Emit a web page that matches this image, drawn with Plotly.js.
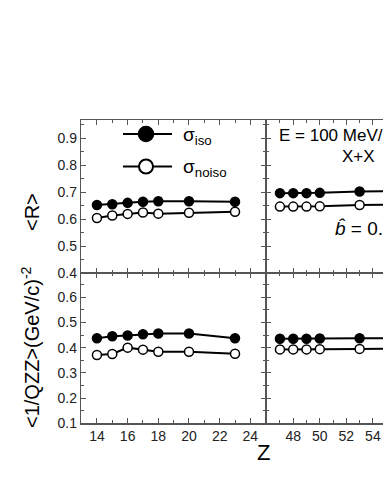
<!DOCTYPE html>
<html>
<head>
<meta charset="utf-8">
<script src="https://cdn.plot.ly/plotly-3.0.1.min.js"></script>
<style>
html,body{margin:0;padding:0;overflow:hidden;background:#fff;width:383px;height:495px;}
#plot{width:440px;height:495px;}
</style>
</head>
<body>
<div id="plot"></div>
<script>
// Light systems (left panels)
const zLight = [14, 15, 16, 17, 18, 20, 23];
const rIsoLight = [0.652, 0.655, 0.660, 0.664, 0.666, 0.666, 0.664];
const rNoisoLight = [0.604, 0.613, 0.619, 0.624, 0.620, 0.623, 0.627];
const qIsoLight = [0.437, 0.445, 0.448, 0.453, 0.456, 0.456, 0.437];
const qNoisoLight = [0.371, 0.375, 0.400, 0.392, 0.384, 0.384, 0.376];
// Heavy systems (right panels, partly cut off)
const zHeavy = [47, 48, 49, 50, 53, 57];
const rIsoHeavy = [0.696, 0.696, 0.696, 0.697, 0.702, 0.704];
const rNoisoHeavy = [0.646, 0.646, 0.646, 0.647, 0.652, 0.655];
const qIsoHeavy = [0.435, 0.435, 0.435, 0.436, 0.437, 0.438];
const qNoisoHeavy = [0.393, 0.393, 0.393, 0.394, 0.395, 0.396];

const xTicksLight = [14, 16, 18, 20, 22, 24];
const xTicksHeavy = [48, 50, 52, 54, 56];
const yTicksR = [0.4, 0.5, 0.6, 0.7, 0.8, 0.9];
const yTicksQ = [0.1, 0.2, 0.3, 0.4, 0.5, 0.6];

const W = 440, H = 495;
const px = v => v / W;
const py = v => 1 - v / H;

function tr(x, y, filled, xa, ya) {
  return {
    x: x, y: y, xaxis: xa, yaxis: ya, type: 'scatter', mode: 'lines+markers',
    line: {color: '#000', width: 2},
    marker: {size: 9, symbol: 'circle', color: filled ? '#000' : '#fff', line: {color: '#000', width: 1.5}},
    showlegend: false, hoverinfo: 'skip', cliponaxis: true
  };
}

const data = [
  tr(zLight, rIsoLight, true, 'x', 'y'),
  tr(zLight, rNoisoLight, false, 'x', 'y'),
  tr(zHeavy, rIsoHeavy, true, 'x2', 'y2'),
  tr(zHeavy, rNoisoHeavy, false, 'x2', 'y2'),
  tr(zLight, qIsoLight, true, 'x3', 'y3'),
  tr(zLight, qNoisoLight, false, 'x3', 'y3'),
  tr(zHeavy, qIsoHeavy, true, 'x4', 'y4'),
  tr(zHeavy, qNoisoHeavy, false, 'x4', 'y4')
];

const axCol = '#555';
const tickFont = {family: 'Arial, Liberation Sans, sans-serif', size: 14, color: '#222'};
function ax(domain, range, tickvals, showLabels, anchor, minorStep) {
  return {
    domain: domain, range: range, anchor: anchor,
    tickmode: 'array', tickvals: tickvals, ticktext: tickvals.map(v => String(v)),
    showticklabels: showLabels, ticks: 'inside', ticklen: 5, tickwidth: 1, tickcolor: axCol,
    showline: true, linecolor: axCol, linewidth: 1.2, mirror: 'ticks',
    showgrid: false, zeroline: false, tickfont: tickFont,
    minor: {ticks: 'inside', ticklen: 3, tickcolor: axCol, dtick: minorStep, tick0: 0, showgrid: false}
  };
}

const xL = [px(81), px(266)], xR = [px(266), px(426)];
const yT = [py(273), py(120)], yB = [py(423.3), py(273)];

const layout = {
  width: W, height: H,
  margin: {l: 0, r: 0, t: 0, b: 0},
  paper_bgcolor: '#fff', plot_bgcolor: '#fff',
  font: {family: 'Arial, Liberation Sans, sans-serif', color: '#000'},
  xaxis: ax(xL, [12.96, 25.02], xTicksLight, false, 'y', 1),
  yaxis: Object.assign(ax(yT, [0.4, 0.967], yTicksR, true, 'x', 0.05), {ticktext: yTicksR.map(v => v.toFixed(1))}),
  xaxis2: ax(xR, [45.95, 58], xTicksHeavy, false, 'y2', 1),
  yaxis2: ax(yT, [0.4, 0.967], yTicksR, false, 'x2', 0.05),
  xaxis3: ax(xL, [12.96, 25.02], xTicksLight, true, 'y3', 1),
  yaxis3: Object.assign(ax(yB, [0.1, 0.696], yTicksQ, true, 'x3', 0.05), {ticktext: yTicksQ.map(v => v.toFixed(1))}),
  xaxis4: ax(xR, [45.95, 58], xTicksHeavy, true, 'y4', 1),
  yaxis4: ax(yB, [0.1, 0.696], yTicksQ, false, 'x4', 0.05),
  shapes: [
    {type: 'line', xref: 'paper', yref: 'paper', x0: px(123), x1: px(172), y0: py(134), y1: py(134), line: {color: '#000', width: 2}},
    {type: 'circle', xref: 'paper', yref: 'paper', x0: px(146 - 7.5), x1: px(146 + 7.5), y0: py(134 + 7.5), y1: py(134 - 7.5), fillcolor: '#000', line: {color: '#000', width: 1.5}},
    {type: 'line', xref: 'paper', yref: 'paper', x0: px(123), x1: px(172), y0: py(166.5), y1: py(166.5), line: {color: '#000', width: 2}},
    {type: 'circle', xref: 'paper', yref: 'paper', x0: px(146 - 7), x1: px(146 + 7), y0: py(166.5 + 7), y1: py(166.5 - 7), fillcolor: '#fff', line: {color: '#000', width: 2}}
  ],
  annotations: [
    {xref: 'paper', yref: 'paper', x: px(181), y: py(136), xanchor: 'left', yanchor: 'middle', showarrow: false,
     text: 'σ<sub>iso</sub>', font: {size: 19, color: '#000'}},
    {xref: 'paper', yref: 'paper', x: px(181), y: py(168), xanchor: 'left', yanchor: 'middle', showarrow: false,
     text: 'σ<sub>noiso</sub>', font: {size: 19, color: '#000'}},
    {xref: 'paper', yref: 'paper', x: px(277), y: py(135), xanchor: 'left', yanchor: 'middle', showarrow: false,
     text: 'E = 100 MeV/nucleon', font: {size: 17, color: '#000'}},
    {xref: 'paper', yref: 'paper', x: px(358), y: py(156.5), xanchor: 'center', yanchor: 'middle', showarrow: false,
     text: 'X+X', font: {size: 17, color: '#000'}},
    {xref: 'paper', yref: 'paper', x: px(333), y: py(228), xanchor: 'left', yanchor: 'middle', showarrow: false,
     text: '<i>b̂</i> = 0.3', font: {size: 19, color: '#000', family: 'Arial, Liberation Sans, sans-serif'}},
    {xref: 'paper', yref: 'paper', x: px(32), y: py(212), xanchor: 'center', yanchor: 'middle', showarrow: false,
     textangle: -90, text: '&lt;R&gt;', font: {size: 20, color: '#000'}},
    {xref: 'paper', yref: 'paper', x: px(30), y: py(347), xanchor: 'center', yanchor: 'middle', showarrow: false,
     textangle: -90, text: '&lt;1/QZZ&gt;(GeV/c)<sup>-2</sup>', font: {size: 20, color: '#000'}},
    {xref: 'paper', yref: 'paper', x: px(263), y: py(452), xanchor: 'center', yanchor: 'middle', showarrow: false,
     text: 'Z', font: {size: 22, color: '#000'}}
  ]
};

Plotly.newPlot('plot', data, layout, {staticPlot: true, displayModeBar: false});
</script>
</body>
</html>
